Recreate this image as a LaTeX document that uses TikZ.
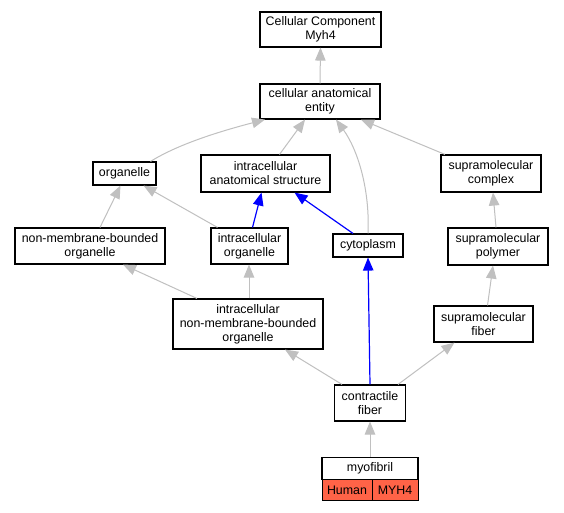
\documentclass[tikz,border=0pt]{standalone}
\usepackage{fontspec}
\setmainfont{Liberation Sans}
\usetikzlibrary{arrows.meta}
\definecolor{edgegray}{HTML}{C0C0C0}
\definecolor{tomatofill}{HTML}{FF6347}
\begin{document}
\begin{tikzpicture}[x=1pt,y=-1pt,
  box/.style={draw=black,line width=1.1pt,fill=white,inner sep=0pt,align=center,
    font=\fontsize{12.4}{14}\selectfont},
  gedge/.style={draw=edgegray,line width=1pt,-{Triangle[length=13pt,width=10.5pt]}},
  bedge/.style={draw=blue,line width=1.2pt,-{Triangle[length=13pt,width=10.5pt]}},
  cell/.style={draw=black,line width=1pt,fill=tomatofill,inner sep=0pt,align=center,
    font=\fontsize{12.4}{14}\selectfont},
]
\useasboundingbox[fill=white] (0,0) rectangle (564,512);
% nodes
\node[box,minimum width=121pt,minimum height=35pt] (ccm) at (320.5,29.5) {Cellular Component\\Myh4};
\node[box,minimum width=120pt,minimum height=35pt] (cae) at (320,101.5) {cellular anatomical\\entity};
\node[box,minimum width=63pt,minimum height=23pt] (org) at (124.5,173.5) {organelle};
\node[box,minimum width=129pt,minimum height=37pt] (ias) at (265.5,173.5) {intracellular\\anatomical structure};
\node[box,minimum width=100pt,minimum height=37pt] (sc) at (491,173.5) {supramolecular\\complex};
\node[box,minimum width=150pt,minimum height=36pt] (nmb) at (90,246) {non-membrane-bounded\\organelle};
\node[box,minimum width=77pt,minimum height=36pt] (io) at (249.5,246) {intracellular\\organelle};
\node[box,minimum width=70pt,minimum height=23pt] (cyt) at (368,245.5) {cytoplasm};
\node[box,minimum width=100pt,minimum height=37pt] (sp) at (498,246.5) {supramolecular\\polymer};
\node[box,minimum width=150pt,minimum height=50pt] (inmb) at (248,324) {intracellular\\non-membrane-bounded\\organelle};
\node[box,minimum width=99pt,minimum height=36pt] (sf) at (483.5,324) {supramolecular\\fiber};
\node[box,minimum width=71pt,minimum height=36pt] (cf) at (370,403) {contractile\\fiber};
\node[box,minimum width=96pt,minimum height=22pt] (myo) at (370,468.5) {myofibril};
\node[cell,minimum width=50pt,minimum height=21pt] (human) at (347,490) {Human};
\node[cell,minimum width=46pt,minimum height=21pt] (myh) at (395,490) {MYH4};
% edges
\draw[gedge] (cae.north) -- (ccm.south);
\draw[gedge] ([xshift=26pt]org.north) .. controls (180,143) and (225,130) .. ([xshift=-55pt]cae.south);
\draw[gedge] ([xshift=14pt]ias.north) -- ([xshift=-15pt]cae.south);
\draw[gedge] (cyt.north) .. controls (370,190) and (358,150) .. ([xshift=16pt]cae.south);
\draw[gedge] ([xshift=-46pt]sc.north) -- ([xshift=41pt]cae.south);
\draw[gedge] ([xshift=10pt]nmb.north) -- ([xshift=-4pt]org.south);
\draw[gedge] ([xshift=-32pt]io.north) -- ([xshift=19pt]org.south);
\draw[bedge] ([xshift=3pt]io.north) -- ([xshift=-4pt]ias.south);
\draw[bedge] ([xshift=-15pt]cyt.north) -- ([xshift=29pt]ias.south);
\draw[gedge] ([xshift=-2pt]sp.north) -- ([xshift=2pt]sc.south);
\draw[gedge] ([xshift=-51pt]inmb.north) -- ([xshift=33pt]nmb.south);
\draw[gedge] ([xshift=1pt]inmb.north) -- ([xshift=-0.5pt]io.south);
\draw[gedge] ([xshift=4pt]sf.north) -- ([xshift=-5pt]sp.south);
\draw[gedge] ([xshift=-28pt]cf.north) -- ([xshift=37pt]inmb.south);
\draw[bedge] (cf.north) -- (cyt.south);
\draw[gedge] ([xshift=28pt]cf.north) -- ([xshift=-29pt]sf.south);
\draw[gedge] (myo.north) -- (cf.south);
\end{tikzpicture}
\end{document}
